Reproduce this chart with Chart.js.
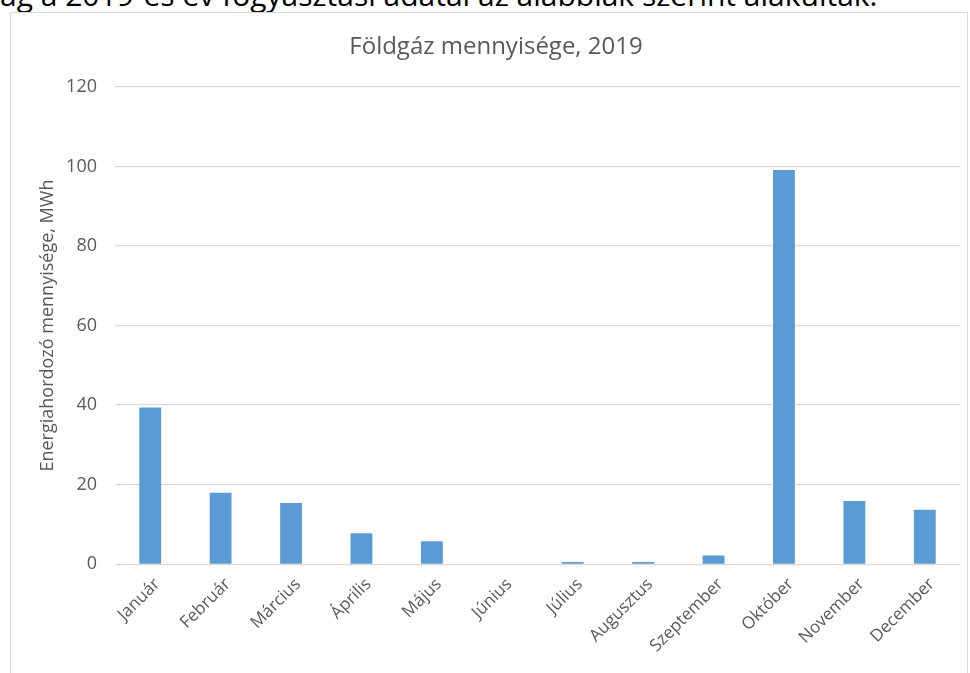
<!DOCTYPE html>
<html>
<head>
<meta charset="utf-8">
<script src="https://cdn.jsdelivr.net/npm/chart.js@4"></script>
<style>
  html, body { margin: 0; padding: 0; width: 970px; height: 673px; overflow: hidden; background: #fff; }
  #intro { position: absolute; left: 0; top: -20px; font-family: "Open Sans", sans-serif; font-size: 30px; line-height: 30px; color: #000; white-space: nowrap; }
  #frame { position: absolute; left: 10px; top: 12px; width: 958px; height: 700px; border: 1px solid #d9d9d9; box-sizing: border-box; }
  #wrap { position: absolute; left: 0; top: 0; width: 970px; height: 673px; }
</style>
</head>
<body>
<div id="intro">ág a 2019-es év fogyasztási adatai az alábbiak szerint alakultak.</div>
<div id="frame"></div>
<div id="wrap"><canvas id="c" width="970" height="673"></canvas></div>
<script>
const titleText = "Földgáz mennyisége, 2019";
const yAxisTitle = "Energiahordozó mennyisége, MWh";
const months = ["Január","Február","Március","Április","Május","Június","Július","Augusztus","Szeptember","Október","November","December"];
const gasMWh = [39.4, 18.0, 15.4, 7.8, 5.8, 0, 0.6, 0.6, 2.2, 99.1, 15.9, 13.7];
const yTicks = { min: 0, max: 120, step: 20 };

const grey = "#595959";
const font = "'Open Sans', sans-serif";

new Chart(document.getElementById("c"), {
  type: "bar",
  data: {
    labels: months,
    datasets: [{
      data: gasMWh,
      backgroundColor: "#5b9bd5",
      borderWidth: 0,
      categoryPercentage: 1,
      barPercentage: 0.31
    }]
  },
  options: {
    responsive: false,
    animation: false,
    layout: { padding: { left: 32, right: 10, top: 0, bottom: 0 } },
    plugins: {
      legend: { display: false },
      tooltip: { enabled: false },
      title: {
        display: true,
        text: titleText,
        color: grey,
        font: { family: font, size: 24, weight: "normal" },
        padding: { top: 33, bottom: 25 }
      }
    },
    scales: {
      x: {
        grid: { display: false, drawTicks: false },
        border: { display: false },
        ticks: {
          color: grey,
          font: { family: font, size: 17 },
          minRotation: 45,
          maxRotation: 45,
          padding: 10,
          labelOffset: 7,
          autoSkip: false
        },
        afterFit: (s) => { s.height = 108.7; }
      },
      y: {
        min: yTicks.min,
        max: yTicks.max,
        ticks: {
          stepSize: yTicks.step,
          color: grey,
          font: { family: font, size: 18 },
          padding: 18
        },
        grid: { color: "#d9d9d9", lineWidth: 1.3, drawTicks: false },
        border: { display: false },
        title: {
          display: true,
          text: yAxisTitle,
          color: grey,
          font: { family: font, size: 18 },
          padding: { top: 5, bottom: 0 }
        },
        afterFit: (s) => { s.width = 83; }
      }
    }
  }
});
</script>
</body>
</html>
